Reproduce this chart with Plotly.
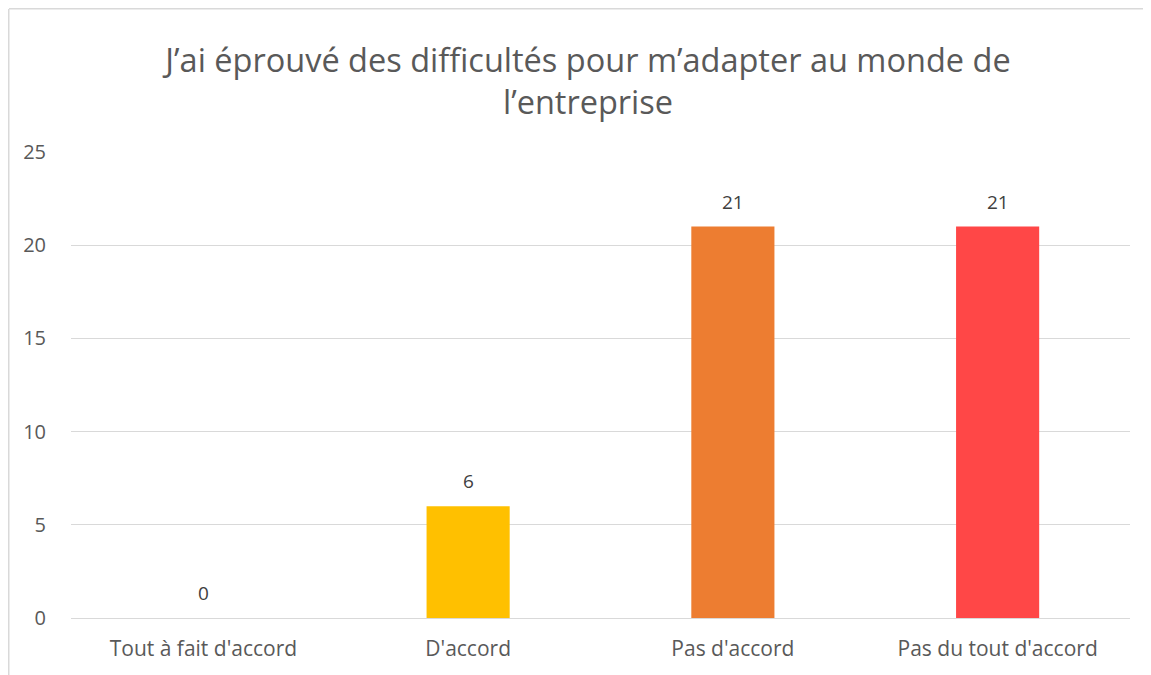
import plotly.graph_objects as go

categories = ["Tout à fait d'accord", "D'accord", "Pas d'accord", "Pas du tout d'accord"]
values = [0, 6, 21, 21]
bar_colors = ["#4472C4", "#FFC000", "#ED7D31", "#FF4747"]
y_ticks = [0, 5, 10, 15, 20, 25]

title_text = "J’ai éprouvé des difficultés pour m’adapter au monde de<br>l’entreprise"

font_family = "'Open Sans', sans-serif"

fig = go.Figure()
fig.add_trace(go.Bar(
    x=categories,
    y=values,
    marker=dict(color=bar_colors, line=dict(width=0)),
    hoverinfo="x+y",
))

# value labels above the bars
for cat, val in zip(categories, values):
    fig.add_annotation(
        x=cat, y=val, text=str(val), showarrow=False,
        yanchor="middle", yshift=25,
        font=dict(size=19, color="#404040", family=font_family),
    )

# plot area in figure pixels: x 63..1122, y 144..610
fig.update_layout(
    width=1151,
    height=675,
    margin=dict(l=63, r=29, t=144, b=65),
    paper_bgcolor="white",
    plot_bgcolor="white",
    showlegend=False,
    bargap=0.686,
    font=dict(family=font_family, color="#595959"),
    title=dict(
        text=title_text,
        x=580 / 1151,
        xanchor="center",
        xref="container",
        y=1 - 64 / 675,
        yanchor="top",
        yref="container",
        font=dict(size=32.5, color="#595959", family=font_family),
    ),
    xaxis=dict(
        showgrid=False,
        showline=True,
        linecolor="#D9D9D9",
        linewidth=1,
        ticks="",
        ticklabelstandoff=12,
        tickfont=dict(size=21, color="#595959"),
    ),
    yaxis=dict(
        range=[0, 25],
        tickvals=y_ticks,
        showgrid=True,
        gridcolor="#D9D9D9",
        gridwidth=1,
        zeroline=False,
        showline=False,
        ticks="",
        ticklabelstandoff=24,
        tickfont=dict(size=20, color="#595959"),
    ),
    shapes=[
        # chart outer border (top and left visible in the crop)
        dict(type="line", xref="paper", yref="paper",
             x0=-62 / 1059, x1=1.1, y0=609.5 / 466, y1=609.5 / 466,
             line=dict(color="#D9D9D9", width=2)),
        dict(type="line", xref="paper", yref="paper",
             x0=-62.5 / 1059, x1=-62.5 / 1059, y0=609 / 466, y1=-0.2,
             line=dict(color="#D9D9D9", width=2)),
    ],
)

fig.write_html("out.html")
